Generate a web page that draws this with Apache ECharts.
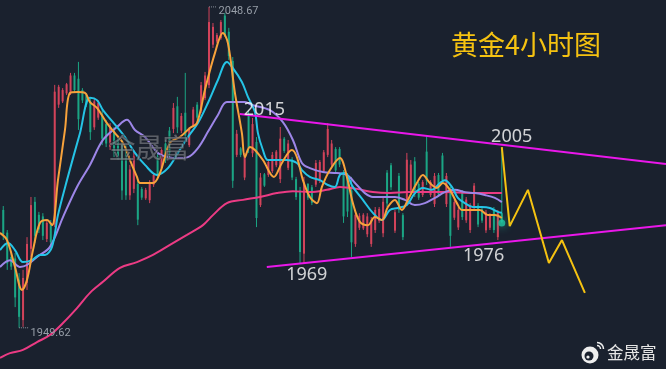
<!DOCTYPE html>
<html><head><meta charset="utf-8">
<script src="https://cdn.jsdelivr.net/npm/echarts/dist/echarts.min.js"></script>
<style>html,body{margin:0;padding:0;background:#1a212e;}#c{width:666px;height:369px;}</style>
</head><body><div id="c"></div>
<script>
// candles: [open, close, low, high]
const candles = [
[1986.0,1978.5,1976.7,1987.2],[1979.0,1969.5,1967.5,1979.8],[1971.5,1968.5,1967.5,1972.7],[1971.0,1959.0,1956.0,1972.7],
[1964.5,1953.0,1949.62,1966.5],[1952.0,1965.0,1949.9,1967.5],[1963.5,1975.5,1961.3,1977.6],[1974.0,1987.5,1971.5,1990.0],
[1988.5,1978.0,1975.8,1990.0],[1984.5,1980.0,1978.9,1985.4],[1984.0,1978.0,1976.7,1985.0],[1977.0,1982.0,1976.1,1982.9],
[1982.0,1976.0,1974.6,1982.9],[1981.5,2022.5,1980.7,2024.6],[2018.5,2024.0,2017.5,2024.6],[2019.5,2023.0,2019.0,2023.6],
[2022.0,2024.8,2021.5,2025.2],[2022.0,2027.5,2021.5,2028.3],[2027.5,2023.0,2022.1,2028.3],[2026.5,2014.0,2010.7,2031.7],
[2023.0,2019.8,2019.0,2023.6],[2021.5,2018.5,2017.8,2022.1],[2019.5,2010.0,2007.6,2020.5],[2011.5,2019.5,2010.7,2020.5],
[2014.5,2019.0,2013.8,2019.9],[2015.5,2008.0,2006.0,2016.8],[2012.5,2006.5,2005.4,2013.8],[2005.5,2011.5,2004.5,2012.8],
[2010.5,2003.5,2002.3,2011.6],[2007.5,2002.5,2001.4,2008.5],[2006.0,1992.0,1989.1,2007.6],[2003.0,1990.5,1989.1,2006.0],
[1990.5,1998.5,1989.1,1999.9],[1992.5,2002.5,1991.2,2004.5],[1994.0,1983.0,1981.3,1995.2],[1992.5,1989.8,1989.1,1993.1],
[1989.6,1992.2,1989.1,1992.8],[1989.0,1994.5,1988.1,1995.2],[1993.8,1996.8,1993.1,1997.4],[2002.5,1996.5,1995.2,2003.6],
[1999.0,2004.5,1998.3,2005.4],[2006.5,2001.5,2000.5,2007.6],[2010.5,2003.5,2002.3,2011.6],[2011.0,2017.5,2009.7,2019.0],
[2018.0,2011.5,2009.7,2020.9],[2010.5,2015.0,2009.7,2015.9],[2016.0,2009.0,2007.6,2028.3],[2006.0,2011.0,2005.4,2011.6],
[2012.0,2017.0,2011.6,2017.8],[2018.5,2014.5,2013.8,2019.3],[2016.5,2024.5,2015.9,2025.5],[2020.5,2027.5,2019.9,2028.6],
[2024.5,2044.0,2023.6,2048.67],[2037.0,2042.5,2036.0,2043.7],[2038.0,2040.0,2037.5,2040.6],[2039.0,2044.0,2038.5,2044.6],
[2046.0,2040.0,2039.4,2046.8],[2041.0,2033.5,2032.3,2042.2],[2032.0,1995.0,1992.8,2033.2],[2003.0,2009.5,2002.3,2010.7],
[2005.0,2003.0,2002.3,2005.4],[1996.0,2002.5,1995.2,2003.6],[2015.0,2005.0,2003.6,2016.8],[2003.5,2012.5,2002.3,2014.4],
[2007.0,1983.5,1980.7,2008.5],[1987.5,1996.0,1986.9,1997.4],[1997.0,1993.5,1993.1,1997.4],[1996.8,2000.8,1996.2,2001.4],
[1998.0,2003.0,1997.4,2003.9],[1999.8,2004.0,1999.2,2004.5],[1995.5,2008.0,1994.3,2011.6],[2008.0,2004.2,2003.6,2008.5],
[1999.0,2006.5,1998.3,2007.6],[2001.5,1996.0,1995.2,2002.3],[1995.5,1990.0,1989.1,1996.2],[1992.0,1973.0,1969.6,1993.1],
[1972.5,1994.5,1969.6,1996.2],[1994.0,1989.8,1989.1,1994.3],[1993.0,1988.2,1987.5,1993.7],[1993.8,2000.5,1993.1,2001.4],
[1995.0,2000.8,1994.3,2001.4],[1998.0,2003.8,1997.4,2004.5],[2003.0,2011.0,2002.3,2012.8],[2000.0,2006.5,1999.2,2007.6],
[2004.8,1998.2,1997.4,2005.4],[2004.8,2000.0,1999.2,2005.4],[1997.5,1984.0,1982.0,1998.3],[1996.5,1985.5,1983.8,1997.4],
[1992.0,1976.0,1971.5,1996.2],[1975.5,1984.5,1974.6,1986.0],[1980.5,1984.2,1979.8,1985.0],[1980.3,1984.5,1979.8,1985.0],
[1978.5,1984.0,1977.6,1985.0],[1975.5,1982.8,1974.6,1983.8],[1979.8,1986.0,1978.9,1986.9],[1982.6,1986.3,1982.0,1986.9],
[1978.8,1988.5,1977.6,1990.0],[1997.5,1988.0,1986.9,1998.3],[1999.8,1993.0,1992.1,2000.5],[1979.6,1985.3,1978.9,1986.0],
[1996.5,1986.0,1985.1,1997.4],[1984.4,1977.6,1976.7,1985.0],[1989.0,2001.5,1988.1,2003.6],[1992.0,2000.0,1991.2,2001.4],
[2001.0,1991.0,1990.0,2002.3],[1994.0,1989.8,1989.1,1994.6],[1990.6,1994.6,1990.0,1995.2],[2004.0,1995.0,1993.7,2009.1],
[1990.6,1994.6,1990.0,1995.2],[1987.8,1996.5,1986.9,1997.4],[1996.8,1990.8,1990.0,1997.4],[2002.8,1995.2,1994.3,2003.6],
[1987.8,1996.5,1986.9,1997.4],[1992.0,1978.0,1974.6,1993.1],[1983.6,1988.4,1982.9,1989.1],[1980.6,1986.0,1979.8,1986.9],
[1991.3,1983.8,1982.9,1992.1],[1982.8,1989.2,1982.0,1990.0],[1979.8,1987.2,1978.9,1988.1],[1986.8,1993.5,1986.0,1994.3],
[1987.4,1981.5,1980.7,1988.1],[1986.2,1982.7,1982.0,1986.9],[1979.7,1985.2,1978.9,1986.0],[1980.5,1984.3,1979.8,1985.0],
[1986.0,1979.8,1978.9,1986.9],[1977.6,1985.0,1976.7,1986.0],[1985.0,1982.3,1982.0,2005.4]
];
const slotCount = 168;
const categories = Array.from({length: slotCount}, (_, i) => String(i));

// moving averages: [candle index, price]
const ma5 = [[-0.83,1978.9],[0.94,1976.7],[2.96,1968.4],[4.73,1961.3],[5.99,1964.4],[7.51,1973.6],[9.28,1982.0],[11.05,1982.9],[12.31,1981.3],[13.82,1995.2],[15.59,2010.7],[16.86,2022.1],[18.88,2022.4],[20.65,2022.1],[21.91,2019.3],[23.68,2017.5],[26.20,2012.8],[28.23,2009.7],[30.25,2006.7],[32.02,2001.4],[33.79,1996.2],[34.54,1994.3],[37.83,1994.3],[39.60,1997.4],[42.12,2006.7],[44.65,2008.5],[47.17,2011.3],[48.94,2012.8],[50.96,2023.0],[53.49,2034.4],[55.51,2040.6],[56.78,2037.5],[58.55,2022.1],[60.31,2009.7],[61.07,2002.3],[62.34,2005.4],[63.60,2004.5],[65.62,2001.4],[68.40,1996.2],[70.42,2000.5],[72.95,2004.5],[74.21,2002.3],[75.73,1995.2],[77.49,1990.0],[79.26,1988.1],[80.53,1993.1],[82.55,1998.3],[85.08,2002.0],[86.84,1996.2],[88.36,1988.1],[90.13,1982.3],[92.15,1981.3],[93.92,1983.8],[95.69,1982.9],[97.20,1986.9],[98.97,1989.1],[100.74,1986.0],[102.26,1989.1],[104.53,1994.3],[106.05,1996.8],[107.82,1994.3],[109.59,1992.8],[111.11,1994.3],[112.88,1992.2],[114.65,1988.1],[115.91,1986.0],[117.92,1986.0],[120.45,1986.0],[122.48,1984.4],[124.25,1984.4],[126.01,1983.5]];
const ma10 = [[-0.83,1973.6],[1.19,1975.8],[2.96,1973.6],[4.98,1969.9],[7.26,1970.5],[9.28,1972.1],[10.54,1972.1],[12.31,1974.6],[13.82,1984.4],[16.10,1995.2],[19.38,2009.7],[21.91,2020.6],[23.68,2019.9],[25.19,2016.8],[27.72,2013.1],[30.75,2008.5],[33.28,2003.6],[35.81,1999.9],[38.84,1996.8],[41.62,1998.9],[44.14,2003.6],[46.67,2008.5],[49.20,2012.8],[51.72,2019.0],[54.25,2026.1],[56.52,2031.7],[58.04,2029.8],[60.31,2025.5],[61.83,2020.9],[63.60,2016.2],[64.36,2009.7],[65.62,2004.5],[66.88,2001.4],[69.16,2001.4],[71.68,2001.4],[74.21,2000.5],[75.47,1998.3],[77.49,1996.2],[80.02,1995.2],[82.05,1993.7],[83.81,1993.1],[85.08,1996.8],[86.34,1997.4],[88.36,1993.1],[90.89,1989.1],[93.41,1985.1],[95.69,1982.9],[97.71,1986.0],[99.73,1986.6],[102.00,1987.5],[104.03,1991.2],[106.05,1992.8],[108.33,1992.2],[110.35,1994.3],[111.62,1995.2],[113.38,1993.1],[114.90,1989.7],[116.67,1988.1],[118.68,1986.9],[120.96,1986.9],[122.98,1986.6],[125.00,1985.4],[126.01,1985.1]];
const ma20 = [[-0.83,1968.4],[1.70,1970.5],[4.22,1968.4],[5.99,1969.0],[8.52,1971.5],[11.80,1974.6],[15.09,1983.8],[18.63,1993.1],[21.91,1999.9],[25.19,2007.6],[28.73,2011.6],[31.26,2013.8],[33.28,2010.7],[35.81,2008.5],[39.09,2003.6],[41.62,2002.3],[44.14,2002.0],[46.67,2002.3],[49.20,2005.1],[51.72,2010.1],[54.25,2015.3],[56.52,2019.3],[61.07,2019.3],[62.84,2018.4],[67.39,2016.8],[70.67,2013.1],[73.20,2007.6],[75.47,2000.5],[77.49,1998.9],[80.78,1997.7],[84.32,1997.4],[86.84,1996.8],[89.37,1993.7],[91.39,1991.2],[93.41,1990.0],[96.44,1990.0],[98.97,1990.0],[101.50,1989.1],[104.03,1987.5],[106.56,1988.1],[109.09,1989.7],[111.62,1991.5],[114.14,1992.2],[116.67,1991.5],[119.19,1991.2],[121.72,1990.6],[124.25,1989.7],[126.01,1988.4]];
const maLong = [[-0.83,1940.3],[1.70,1941.8],[4.98,1942.8],[8.52,1945.2],[11.80,1947.4],[15.09,1951.1],[18.63,1955.7],[21.91,1960.4],[25.19,1963.8],[29.49,1968.1],[33.79,1969.9],[37.83,1972.1],[42.12,1975.2],[46.42,1978.3],[50.46,1981.3],[52.99,1984.4],[56.52,1988.1],[60.57,1989.1],[64.86,1990.0],[69.16,1991.2],[73.20,1991.8],[77.49,1991.5],[81.79,1992.2],[85.08,1993.1],[89.37,1992.5],[93.41,1991.5],[97.71,1991.2],[102.26,1991.5],[110.86,1991.5],[119.19,1991.2],[126.01,1991.2]];

const upperTrend = [[59.8,2015.6],[167.5,2000.2]];
const lowerTrend = [[66.6,1968.4],[167.5,1981.3]];
const projection = [[126.0,2005.4],[128.0,1981.0],[132.6,1992.2],[137.9,1969.6],[141.2,1976.7],[147.0,1960.4]];

const annotIndex = [66.0, 128.5, 76.7, 121.4];
const annotPrice = [2015, 2005, 1969, 1976];
const annotShift = [-6.5, -12, 10, 13.7];

const highPoint = [52, 2048.67];
const lowPoint = [4, 1949.62];
const lastPoint = [126, 1982.0];

const UP = '#d2435a', DOWN = '#1ba584';
const chart = echarts.init(document.getElementById('c'), null, {renderer: 'canvas'});
const lineS = (data, color, w) => ({type:'line', xAxisIndex:1, data, smooth:0.35, showSymbol:false, symbol:'none', lineStyle:{color, width:w}, z:3, silent:true, animation:false});

chart.setOption({
  backgroundColor: '#1a212e',
  animation: false,
  title: {text:'黄金4小时图', left:451, top:31, padding:0,
    textStyle:{color:'#f5c211', fontSize:27, fontWeight:'normal', fontFamily:'Noto Sans CJK SC'}},
  grid: {left:1.3, top:0, width:665, height:369},
  xAxis: [
    {type:'category', data:categories, boundaryGap:true, show:false},
    {type:'value', min:-0.5, max:slotCount-0.5, show:false}
  ],
  yAxis: {type:'value', min:1936.9, max:2050.8, show:false, splitLine:{show:false}},
  graphic: [
    {type:'text', left:108, top:134, z:100, style:{text:'金晟富', fontSize:27, fontFamily:'Noto Sans CJK SC', fill:'rgba(135,138,145,0.6)', stroke:'rgba(30,34,42,0.7)', lineWidth:1.2}},
    {type:'circle', shape:{cx:590, cy:355, r:8.5}, style:{fill:'#eeeeee'}, z:10},
    {type:'circle', shape:{cx:589, cy:356, r:4.5}, style:{fill:'#1a212e'}, z:11},
    {type:'circle', shape:{cx:588, cy:357, r:1.6}, style:{fill:'#eeeeee'}, z:12},
    {type:'arc', shape:{cx:597, cy:349, r:3.5, startAngle:-Math.PI/2, endAngle:0}, style:{stroke:'#eeeeee', lineWidth:1.5, fill:null}, z:10},
    {type:'arc', shape:{cx:597, cy:349, r:6.5, startAngle:-Math.PI/2, endAngle:0}, style:{stroke:'#eeeeee', lineWidth:1.5, fill:null}, z:10},
    {type:'text', left:607, top:344, z:10, style:{text:'金晟富', fontSize:16.5, fontFamily:'Noto Sans CJK SC', fill:'#e6e6e6'}}
  ],
  series: [
    {type:'custom', xAxisIndex:0, z:2, silent:true,
     data: candles.map((c, i) => [i, c[0], c[1], c[2], c[3]]),
     encode:{x:0, y:[1,2,3,4]},
     renderItem: (params, api) => {
       const i = api.value(0), o = api.value(1), c = api.value(2), l = api.value(3), h = api.value(4);
       const col = c >= o ? UP : DOWN;
       const pH = api.coord([i, h]), pL = api.coord([i, l]);
       const pO = api.coord([i, o]), pC = api.coord([i, c]);
       const top = Math.min(pO[1], pC[1]), bh = Math.max(1, Math.abs(pO[1] - pC[1]));
       return {type:'group', children:[
         {type:'line', shape:{x1:pH[0], y1:pH[1], x2:pL[0], y2:pL[1]}, style:{stroke:col, lineWidth:1}},
         {type:'rect', shape:{x:pO[0]-1, y:top, width:2, height:bh}, style:{fill:col}}
       ]};
     }},
    lineS(maLong, '#ec3b84', 2),
    lineS(ma20, '#9d86e8', 2),
    lineS(ma10, '#25c4e6', 2),
    lineS(ma5, '#f7a23b', 2),
    {type:'line', xAxisIndex:1, data:upperTrend, showSymbol:false, symbol:'none', lineStyle:{color:'#ea17ea', width:2}, z:4, animation:false},
    {type:'line', xAxisIndex:1, data:lowerTrend, showSymbol:false, symbol:'none', lineStyle:{color:'#ea17ea', width:2}, z:4, animation:false},
    {type:'line', xAxisIndex:1, data:projection, showSymbol:false, symbol:'none', lineStyle:{color:'#f5c211', width:2}, z:5, animation:false},
    {type:'line', xAxisIndex:1, data:[highPoint,[highPoint[0]+1.9, highPoint[1]]], showSymbol:false, symbol:'none',
     lineStyle:{color:'#8a919c', width:1, type:'dotted'}, z:5,
     endLabel:{show:true, formatter:String(highPoint[1]), color:'#979ea8', fontSize:11, fontFamily:'Roboto', distance:2, offset:[0,4]}},
    {type:'line', xAxisIndex:1, data:[lowPoint,[lowPoint[0]+2.4, lowPoint[1]]], showSymbol:false, symbol:'none',
     lineStyle:{color:'#8a919c', width:1, type:'dotted'}, z:5,
     endLabel:{show:true, formatter:String(lowPoint[1]), color:'#979ea8', fontSize:11, fontFamily:'Roboto', distance:2, offset:[0,5]}},
    {type:'scatter', xAxisIndex:1, symbolSize:0, z:6,
     data: annotIndex.map((v,i)=>({value:[v, annotPrice[i]], label:{offset:[0, annotShift[i]]}})),
     label:{show:true, position:'inside', formatter:p=>String(p.value[1]), color:'#ffffff', fontSize:18, fontFamily:'Noto Sans'}},
    {type:'scatter', xAxisIndex:1, data:[lastPoint], symbolSize:7, z:6,
     itemStyle:{color:'#22c7a0', shadowBlur:8, shadowColor:'#22c7a0'}}
  ]
});
</script></body></html>
